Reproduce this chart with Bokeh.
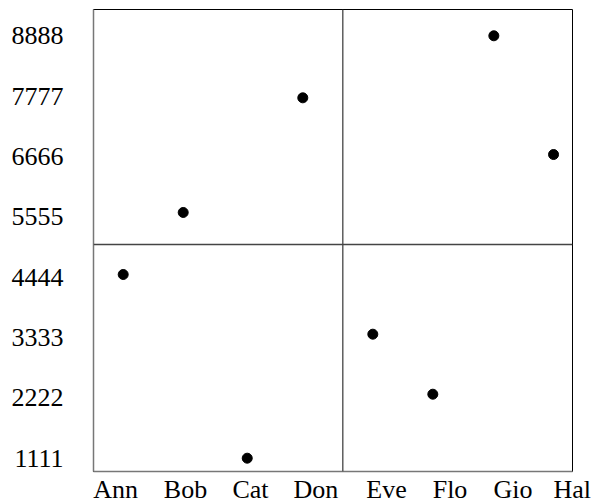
from bokeh.plotting import figure
from bokeh.models import Range1d, FixedTicker, Span
from bokeh.embed import file_html
from bokeh.resources import INLINE

# --- data ---
names = ["Ann", "Bob", "Cat", "Don", "Eve", "Flo", "Gio", "Hal"]
x_vals = [0.495, 1.495, 2.562, 3.488, 4.655, 5.655, 6.672, 7.667]
y_vals = [4493, 5635, 1111, 7746, 3394, 2289, 8888, 6702]
x_label_pos = [0.367, 1.533, 2.617, 3.708, 4.883, 5.942, 6.992, 7.98]
y_ticks = [1111, 2222, 3333, 4444, 5555, 6666, 7777, 8888]
h_ref = 5045
v_ref = 4.155

FONT = "Liberation Serif"

p = figure(frame_width=479, frame_height=462, output_backend="svg", toolbar_location=None,
           x_range=Range1d(0, 7.983), y_range=Range1d(866, 9372),
           min_border_left=93, min_border_right=20, min_border_top=9, min_border_bottom=28)

p.outline_line_color = "black"
p.outline_line_width = 1
p.xgrid.visible = False
p.ygrid.visible = False
p.background_fill_color = "white"
p.border_fill_color = "white"

p.add_layout(Span(location=h_ref, dimension="width", line_color="#444444", line_width=1.3))
p.add_layout(Span(location=v_ref, dimension="height", line_color="#444444", line_width=1.3))

p.scatter(x_vals, y_vals, size=10, color="black", marker="circle")

for ax in (p.xaxis[0], p.yaxis[0]):
    ax.axis_line_color = "#777777"
    ax.axis_line_width = 1.5
    ax.major_tick_line_color = None
    ax.minor_tick_line_color = None
    ax.major_tick_out = 0
    ax.major_tick_in = 0
    ax.major_label_text_font = FONT
    ax.major_label_text_font_size = "26px"
    ax.major_label_text_color = "black"

p.xaxis.ticker = FixedTicker(ticks=x_label_pos)
p.xaxis.major_label_overrides = {t: n for t, n in zip(x_label_pos, names)}
p.xaxis.major_label_standoff = 3

p.yaxis.ticker = FixedTicker(ticks=y_ticks)
p.yaxis.major_label_overrides = {t: str(t) for t in y_ticks}
p.yaxis.major_label_standoff = 30

open("out.html", "w").write(file_html(p, INLINE))
